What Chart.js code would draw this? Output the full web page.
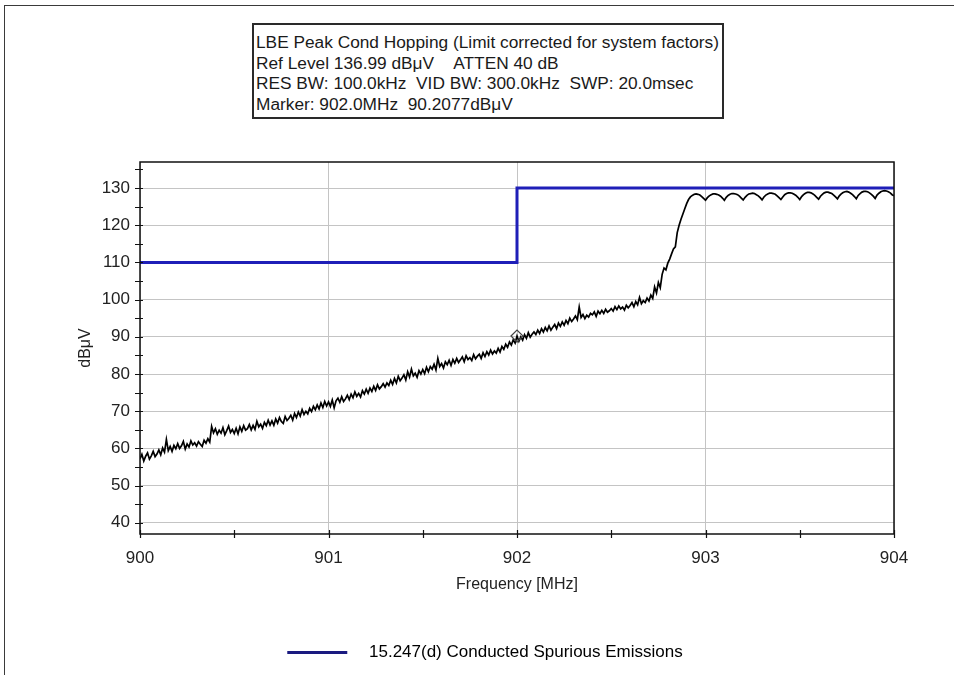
<!DOCTYPE html>
<html>
<head>
<meta charset="utf-8">
<script src="https://cdn.jsdelivr.net/npm/chart.js@4.4.0/dist/chart.umd.min.js"></script>
<style>
html,body{margin:0;padding:0;background:#fff;}
#wrap{position:relative;width:954px;height:675px;overflow:hidden;background:#fff;}
#frame{position:absolute;left:4px;top:5px;width:1000px;height:700px;border-top:1.5px solid #3a3a3a;border-left:1.5px solid #3a3a3a;pointer-events:none;}
#info{position:absolute;left:252px;top:23px;width:466px;height:85px;border:2px solid #2a2a2a;padding:7px 0 0 2px;font-family:"Liberation Sans",Arial,sans-serif;font-size:17.3px;line-height:20.5px;color:#1a1a1a;white-space:nowrap;background:#fff;}
#chart{position:absolute;left:0;top:0;}
</style>
</head>
<body>
<div id="wrap">
<canvas id="chart" width="954" height="675"></canvas>
<div id="frame"></div>
<div id="info"></div>
</div>
<script>
// ---------- data ----------
const infoLines = [
  "LBE Peak Cond Hopping (Limit corrected for system factors)",
  "Ref Level 136.99 dB\u03bcV    ATTEN 40 dB",
  "RES BW: 100.0kHz  VID BW: 300.0kHz  SWP: 20.0msec",
  "Marker: 902.0MHz  90.2077dB\u03bcV"
];
const xAxisTitle = "Frequency [MHz]";
const yAxisTitle = "dB\u03bcV";
const legendLabel = "15.247(d) Conducted Spurious Emissions";

const sweepStartMHz = 900.0;
const sweepStepMHz = 0.01;
// measured trace (dBuV), one value per 0.01 MHz from 900.00 to 904.00 MHz (one row = 0.1 MHz)
const traceLevels = [
  57.2, 58.4, 56.6, 57.9, 58.8, 57.1, 58.0, 59.2, 57.8, 58.5,
  59.6, 58.3, 60.1, 59.0, 62.4, 59.4, 60.5, 59.2, 60.8, 59.9,
  61.3, 60.0, 60.7, 61.9, 59.8, 61.2, 60.4, 62.0, 60.9, 61.5,
  60.6, 61.8, 61.1, 60.5, 62.2, 61.4, 62.6, 61.7, 65.9, 64.2,
  65.3, 63.8, 64.9, 64.1, 65.6, 63.7, 64.8, 66.0, 64.3, 65.1,
  64.0, 65.4, 63.9, 65.8, 64.6, 66.1, 64.9, 65.3, 66.4, 65.0,
  66.2, 65.1, 67.3, 65.8, 66.5, 65.4, 67.0, 66.1, 67.6, 66.3,
  67.4, 66.2, 67.9, 66.8, 68.3, 67.2, 66.7, 68.6, 67.5, 68.1,
  68.9, 67.6, 69.4, 68.3, 69.8, 68.7, 70.4, 69.1, 70.0, 69.3,
  70.8, 69.9, 71.3, 70.4, 71.7, 70.6, 72.2, 71.0, 72.6, 71.4,
  72.5, 71.3, 73.0, 70.9, 72.8, 73.5, 72.4, 73.9, 72.6, 73.3,
  74.3, 73.1, 74.6, 73.6, 75.2, 74.0, 74.8, 73.8, 75.5, 74.6,
  75.9, 74.8, 76.2, 75.3, 76.7, 75.6, 77.1, 76.0, 76.6, 77.4,
  76.5, 77.6, 76.9, 78.3, 77.2, 78.8, 77.6, 79.4, 78.2, 78.9,
  79.8, 78.4, 80.6, 79.2, 81.3, 79.5, 80.2, 79.1, 80.9, 80.0,
  81.2, 80.1, 81.8, 80.6, 82.0, 81.3, 82.6, 81.1, 84.2, 82.0,
  82.8, 81.6, 83.3, 82.5, 83.7, 82.3, 83.9, 82.9, 84.2, 83.1,
  83.8, 84.6, 83.3, 84.9, 83.9, 84.4, 83.6, 85.2, 84.1, 84.8,
  85.3, 84.2, 85.7, 84.7, 86.0, 85.1, 86.4, 85.4, 86.2, 85.6,
  86.9, 85.9, 87.4, 86.6, 88.0, 87.2, 88.6, 87.8, 89.2, 88.3,
  90.2, 88.8, 90.0, 89.1, 90.6, 89.6, 91.1, 89.9, 90.7, 91.3,
  90.6, 91.8, 90.9, 92.2, 91.3, 92.5, 91.6, 92.9, 91.8, 92.6,
  93.3, 92.2, 93.7, 92.8, 94.0, 93.1, 94.4, 93.5, 95.0, 94.1,
  94.8, 95.6, 94.6, 98.0, 95.2, 96.0, 94.9, 95.8, 95.3, 96.3,
  95.9, 96.7, 95.5, 96.9, 96.2, 97.1, 96.3, 97.4, 96.6, 97.0,
  97.6, 96.9, 98.1, 97.3, 98.3, 97.5, 98.0, 97.2, 98.5, 97.8,
  98.4, 99.2, 98.1, 99.5, 98.6, 100.6, 98.9, 99.7, 99.2, 100.4,
  99.6, 101.2, 100.3, 103.4, 101.8, 104.6, 103.2, 106.8, 108.5, 108.0,
  109.8, 110.9, 112.3, 113.6, 114.2, 118.0, 120.0, 121.6, 123.0, 124.4,
  125.8, 126.9, 127.6, 128.0, 128.3, 128.4, 128.3, 128.1, 127.7, 127.2,
  126.7, 127.4, 127.9, 128.2, 128.4, 128.4, 128.3, 128.1, 127.8, 127.3,
  126.7, 127.5, 128.0, 128.3, 128.5, 128.5, 128.4, 128.2, 127.8, 127.3,
  126.8, 127.5, 128.0, 128.4, 128.5, 128.6, 128.5, 128.2, 127.9, 127.4,
  126.8, 127.6, 128.1, 128.4, 128.6, 128.6, 128.5, 128.3, 127.9, 127.4,
  126.9, 127.6, 128.2, 128.5, 128.7, 128.7, 128.6, 128.3, 128.0, 127.5,
  126.9, 127.7, 128.2, 128.6, 128.8, 128.8, 128.7, 128.4, 128.0, 127.5,
  127.0, 127.8, 128.3, 128.7, 128.9, 128.9, 128.7, 128.5, 128.1, 127.6,
  127.1, 127.9, 128.4, 128.8, 129.0, 129.1, 128.9, 128.6, 128.2, 127.7,
  127.1, 128.0, 128.5, 128.9, 129.1, 129.1, 129.0, 128.7, 128.3, 127.8,
  127.2, 128.1, 128.6, 129.0, 129.2, 129.3, 129.2, 129.0, 128.7, 128.2,
  127.9
];
const limitFreqs = [900, 902, 902, 904];
const limitLevels = [110, 110, 130, 130];
const markerFreqs = [902.0];
const markerLevels = [90.2077];

const xMin = 900, xMax = 904;
const yMin = 36.99, yMax = 136.99;
const xMajorTicks = [900, 901, 902, 903, 904];
const xMinorTicks = [900.5, 901.5, 902.5, 903.5];
const yMajorTicks = [40, 50, 60, 70, 80, 90, 100, 110, 120, 130];
const yMinorTicks = [45, 55, 65, 75, 85, 95, 105, 115, 125, 135];

// ---------- build ----------
document.getElementById('info').innerHTML = infoLines.map(t => '<div>' + t.replace(/ /g, '&nbsp;') + '</div>').join('');

const FONT = '"Liberation Sans", Arial, sans-serif';
const tracePoints = traceLevels.map((v, i) => ({x: +(sweepStartMHz + i * sweepStepMHz).toFixed(2), y: v}));
const limitPoints = limitFreqs.map((f, i) => ({x: f, y: limitLevels[i]}));
const markerPoints = markerFreqs.map((f, i) => ({x: f, y: markerLevels[i]}));

const frameTicks = {
  id: 'frameTicks',
  afterDraw(chart) {
    const {ctx, chartArea: a, scales: {x, y}} = chart;
    ctx.save();
    ctx.strokeStyle = '#111';
    ctx.lineWidth = 1.5;
    ctx.strokeRect(a.left, a.top, a.right - a.left, a.bottom - a.top);
    ctx.lineWidth = 1.2;
    ctx.beginPath();
    yMajorTicks.concat(yMinorTicks).forEach(v => {
      if (v < yMin || v > yMax) return;
      const py = Math.round(y.getPixelForValue(v)) + 0.5;
      ctx.moveTo(a.left - 5, py); ctx.lineTo(a.left + 3, py);
    });
    xMajorTicks.concat(xMinorTicks).forEach(v => {
      const px = Math.round(x.getPixelForValue(v)) + 0.5;
      ctx.moveTo(px, a.bottom - 4); ctx.lineTo(px, a.bottom + 4);
    });
    ctx.stroke();
    ctx.restore();
  }
};

new Chart(document.getElementById('chart'), {
  type: 'line',
  data: {
    datasets: [
      {
        label: legendLabel,
        data: limitPoints,
        borderColor: '#1f1fb8',
        backgroundColor: '#1a1a80',
        borderWidth: 3,
        pointRadius: 0,
        tension: 0,
        order: 1
      },
      {
        label: 'Marker',
        data: markerPoints,
        showLine: false,
        pointStyle: 'rectRot',
        pointRadius: 6,
        pointBorderColor: '#444',
        pointBackgroundColor: 'rgba(255,255,255,0)',
        pointBorderWidth: 1.2,
        order: 2
      },
      {
        label: 'Trace',
        data: tracePoints,
        borderColor: '#000',
        borderWidth: 1.7,
        pointRadius: 0,
        tension: 0,
        order: 3
      }
    ]
  },
  options: {
    responsive: false,
    animation: false,
    events: [],
    layout: {padding: {top: 162, left: 76, right: 60, bottom: 4}},
    scales: {
      x: {
        type: 'linear',
        min: xMin, max: xMax,
        afterBuildTicks: s => { s.ticks = xMajorTicks.map(v => ({value: v})); },
        afterFit: s => { s.height = 100; },
        grid: {color: '#c4c4c4', lineWidth: 1, drawTicks: false},
        border: {display: false},
        ticks: {padding: 14, color: '#222', font: {family: FONT, size: 17}, maxRotation: 0, callback: v => String(v)},
        title: {display: true, text: xAxisTitle, color: '#222', font: {family: FONT, size: 16}, padding: {top: 0, bottom: 40}}
      },
      y: {
        type: 'linear',
        min: yMin, max: yMax,
        afterBuildTicks: s => { s.ticks = yMajorTicks.map(v => ({value: v})); },
        afterFit: s => { s.width = 64; },
        grid: {color: '#c4c4c4', lineWidth: 1, drawTicks: false},
        border: {display: false},
        ticks: {padding: 10, color: '#222', font: {family: FONT, size: 17}, callback: v => String(v)},
        title: {display: true, text: yAxisTitle, color: '#222', font: {family: FONT, size: 16}, padding: {top: 0, bottom: 0}}
      }
    },
    plugins: {
      legend: {
        display: true,
        position: 'bottom',
        labels: {
          boxWidth: 60,
          boxHeight: 3,
          padding: 10,
          color: '#222',
          font: {family: FONT, size: 17},
          generateLabels: chart => [{
            text: '\u2002 ' + legendLabel,
            fillStyle: '#1a1a80',
            strokeStyle: '#1a1a80',
            lineWidth: 0,
            datasetIndex: 0,
            hidden: false
          }]
        }
      },
      tooltip: {enabled: false}
    }
  },
  plugins: [frameTicks]
});
</script>
</body>
</html>
